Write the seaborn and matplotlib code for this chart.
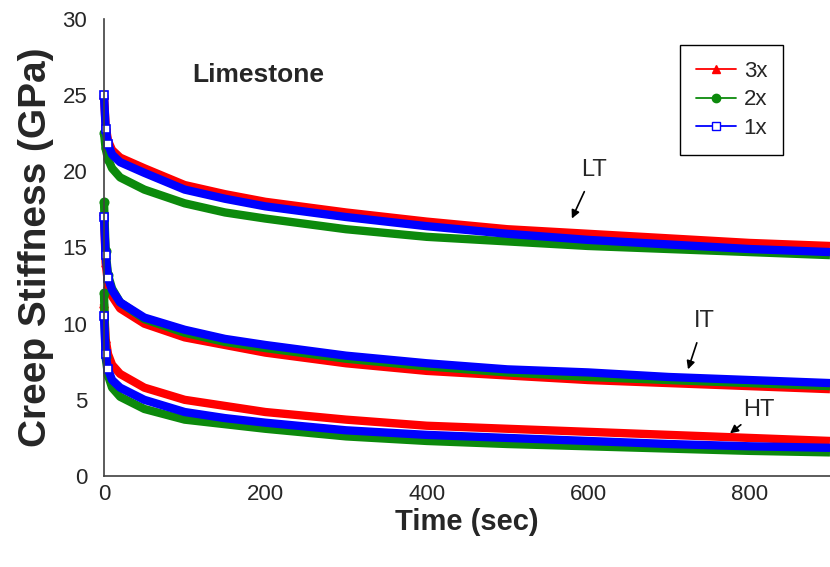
import numpy as np
import pandas as pd
import matplotlib
matplotlib.use("Agg")
import matplotlib.pyplot as plt
from matplotlib.lines import Line2D
import seaborn as sns

sns.set_style("white")
plt.rcParams["font.family"] = ["Liberation Sans", "DejaVu Sans"]

# ---- data -------------------------------------------------------------
time_s = [0, 2, 5, 10, 20, 50, 100, 150, 200, 300, 400, 500, 600, 700, 800, 900]

# LT
lt_3x = [25.0, 23.0, 22.0, 21.4, 20.9, 20.2, 19.1, 18.5, 18.0, 17.3, 16.7, 16.2, 15.9, 15.6, 15.3, 15.1]
lt_2x = [22.5, 21.5, 20.8, 20.2, 19.6, 18.8, 17.9, 17.3, 16.9, 16.2, 15.7, 15.4, 15.1, 14.9, 14.7, 14.5]
lt_1x = [25.0, 22.8, 21.8, 21.1, 20.6, 19.9, 18.8, 18.2, 17.7, 17.0, 16.4, 15.9, 15.5, 15.2, 14.9, 14.7]
# IT
it_3x = [17.3, 14.0, 12.6, 11.8, 11.0, 10.0, 9.1, 8.6, 8.1, 7.4, 6.9, 6.6, 6.3, 6.1, 5.9, 5.7]
it_2x = [18.0, 14.8, 13.2, 12.3, 11.4, 10.3, 9.4, 8.8, 8.4, 7.7, 7.2, 6.8, 6.5, 6.3, 6.1, 5.9]
it_1x = [17.0, 14.5, 13.0, 12.2, 11.4, 10.4, 9.6, 9.0, 8.6, 7.9, 7.4, 7.0, 6.8, 6.5, 6.3, 6.1]
# HT
ht_3x = [11.3, 9.0, 8.0, 7.3, 6.7, 5.8, 5.0, 4.6, 4.2, 3.7, 3.3, 3.1, 2.9, 2.7, 2.5, 2.3]
ht_2x = [12.0, 7.8, 6.6, 5.8, 5.2, 4.4, 3.7, 3.4, 3.1, 2.6, 2.3, 2.1, 1.95, 1.8, 1.65, 1.55]
ht_1x = [10.5, 8.0, 7.0, 6.3, 5.8, 5.0, 4.2, 3.8, 3.5, 3.0, 2.7, 2.5, 2.3, 2.1, 1.95, 1.85]

rates = ["3x", "2x", "1x"]
temps = ["LT", "IT", "HT"]
series = {
    ("3x", "LT"): lt_3x, ("3x", "IT"): it_3x, ("3x", "HT"): ht_3x,
    ("2x", "LT"): lt_2x, ("2x", "IT"): it_2x, ("2x", "HT"): ht_2x,
    ("1x", "LT"): lt_1x, ("1x", "IT"): it_1x, ("1x", "HT"): ht_1x,
}

rows = []
for (rate, temp), vals in series.items():
    for t, v in zip(time_s, vals):
        rows.append({"time": t, "stiffness": v, "rate": rate, "temp": temp})
df = pd.DataFrame(rows)

# ---- styles -----------------------------------------------------------
COLORS = {"3x": "#FF0000", "2x": "#0C8A0C", "1x": "#0000FF"}
MARKERS = {"3x": "^", "2x": "o", "1x": "s"}
FACE = {"3x": "#FF0000", "2x": "#0C8A0C", "1x": "white"}

fig = plt.figure(figsize=(8.3, 5.67), dpi=100)
ax = fig.add_axes([0.1253, 0.1605, 0.8747, 0.806])

for rate in rates:
    for temp in temps:
        sub = df[(df["rate"] == rate) & (df["temp"] == temp)]
        sns.lineplot(data=sub, x="time", y="stiffness", ax=ax, color=COLORS[rate],
                     linewidth=6, marker=MARKERS[rate], markersize=6, markevery=[0, 1, 2],
                     markerfacecolor=FACE[rate], markeredgecolor=COLORS[rate],
                     markeredgewidth=1.2, estimator=None, legend=False,
                     solid_capstyle="butt", clip_on=False)

ax.set_xlim(0, 900)
ax.set_ylim(0, 30)
ax.set_xticks([0, 200, 400, 600, 800])
ax.set_yticks([0, 5, 10, 15, 20, 25, 30])
ax.tick_params(axis="both", labelsize=16, direction="out", length=7, width=1, color="#404040")
ax.tick_params(axis="x", length=6, pad=0)
ax.tick_params(axis="y", pad=5)
for s in ["top", "right"]:
    ax.spines[s].set_visible(False)
for s in ["left", "bottom"]:
    ax.spines[s].set_color("#404040")
    ax.spines[s].set_linewidth(1.2)

ax.set_xlabel("Time (sec)", fontsize=21, fontweight="bold", labelpad=2)
ax.set_ylabel("Creep Stiffness (GPa)", fontsize=28, fontweight="bold", labelpad=6)

ax.text(110, 26.3, "Limestone", fontsize=19, fontweight="bold", ha="left", va="center")

# annotations
arrow = dict(arrowstyle="-|>", color="black", lw=1.2, mutation_scale=12)
ax.annotate("LT", xy=(580, 16.9), xytext=(608, 20.1), fontsize=17, ha="center", va="center",
            arrowprops=dict(arrow, shrinkA=6, shrinkB=0))
ax.annotate("IT", xy=(724, 7.0), xytext=(744, 10.2), fontsize=17, ha="center", va="center",
            arrowprops=dict(arrow, shrinkA=6, shrinkB=0))
ax.annotate("HT", xy=(776, 2.8), xytext=(812, 4.3), fontsize=17, ha="center", va="center",
            arrowprops=dict(arrow, shrinkA=10, shrinkB=0))

handles = [Line2D([0], [0], color=COLORS[r], lw=1.3, marker=MARKERS[r], markersize=6,
                  markerfacecolor=FACE[r], markeredgecolor=COLORS[r]) for r in rates]
leg = ax.legend(handles, rates, loc="upper right", bbox_to_anchor=(0.935, 0.943),
                borderaxespad=0, fontsize=16, frameon=True, fancybox=False, framealpha=1,
                edgecolor="black", handlelength=1.8, handletextpad=0.35,
                borderpad=0.7, labelspacing=0.35)
leg.get_frame().set_linewidth(1.0)

fig.savefig("out.png", dpi=100)
